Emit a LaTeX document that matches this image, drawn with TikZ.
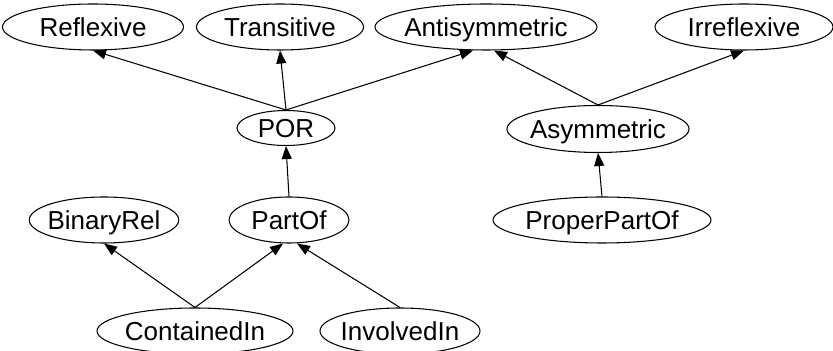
\documentclass[tikz,border=0pt]{standalone}
\usepackage{fontspec}
\setmainfont{Liberation Sans}
\usepackage{tikz}
\usetikzlibrary{arrows.meta, shapes.geometric}

\begin{document}
\begin{tikzpicture}[
    cls/.style={
        ellipse, draw, line width=0.6pt,
        inner xsep=-2pt, inner ysep=0pt,
        minimum height=0.92cm,
        text height=10.6pt, text depth=0pt,
        font=\fontsize{14.8}{17}\selectfont
    },
    isa/.style={-{Triangle[length=2.6mm, width=2mm]}, line width=0.6pt}
]
\path[use as bounding box, fill=white] (0,0) rectangle (16.66,7.02);

% top row
\node[cls, minimum width=3.62cm] (refl)  at (1.86,6.48)  {Reflexive};
\node[cls, minimum width=3.34cm] (trans) at (5.60,6.48)  {Transitive};
\node[cls, minimum width=4.44cm] (anti)  at (9.72,6.48)  {Antisymmetric};
\node[cls, minimum width=3.56cm] (irr)   at (14.88,6.48) {Irreflexive};

% second row
\node[cls, minimum width=1.96cm, minimum height=0.70cm]
    (por) at (5.72,4.46) {POR};
\node[cls, minimum width=3.62cm, minimum height=0.94cm]
    (asym) at (11.96,4.44) {Asymmetric};

% third row
\node[cls, minimum width=2.90cm] (binrel) at (2.08,2.62)  {BinaryRel};
\node[cls, minimum width=2.40cm] (partof) at (5.78,2.62)  {PartOf};
\node[cls, minimum width=4.36cm] (ppo)    at (12.04,2.62) {ProperPartOf};

% bottom row
\node[cls, minimum width=3.92cm] (cont) at (3.90,0.40) {ContainedIn};
\node[cls, minimum width=3.20cm] (inv)  at (8.00,0.40) {InvolvedIn};

% arrow ends that share a target
\coordinate (anti-l)   at ([xshift=-0.26cm]anti.south);
\coordinate (anti-r)   at ([xshift=0.16cm]anti.south);
\coordinate (partof-l) at ([xshift=-0.12cm]partof.south);
\coordinate (partof-r) at ([xshift=0.16cm]partof.south);

\foreach \a/\b in {por.north/refl.south, por.north/trans.south,
                   por.north/anti-l, asym.north/anti-r,
                   asym.north/irr.south, partof.north/por.south,
                   ppo.north/asym.south, cont.north/binrel.south,
                   cont.north/partof-l, inv.north/partof-r}{
    \draw[isa] (\a) -- (\b);
}
\end{tikzpicture}
\end{document}
